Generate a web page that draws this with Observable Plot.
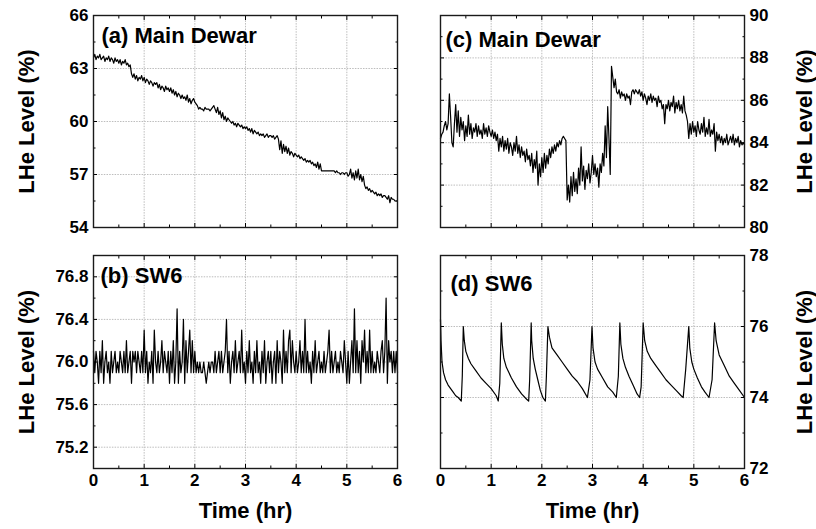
<!DOCTYPE html>
<html><head><meta charset="utf-8">
<script src="https://cdn.jsdelivr.net/npm/d3@7"></script>
<script src="https://cdn.jsdelivr.net/npm/@observablehq/plot@0.6"></script>
<style>
html,body{margin:0;padding:0;background:#fff;}
#chart{position:relative;width:816px;height:529px;overflow:hidden;background:#fff;}
#chart svg{position:absolute;}
</style></head><body><div id="chart"></div>
<script>
// sampling interval (hours) of the logged level series in panels a, b, c
const sampleStepHr = 0.025;

// (a) Main Dewar, LHe level (%)
const mainDewarA = [
63.6,63.8,63.5,63.7,63.6,63.8,63.5,63.6,63.7,63.4,
63.6,63.5,63.7,63.4,63.6,63.5,63.3,63.6,63.4,63.5,
63.3,63.5,63.2,63.4,63.3,63.5,63.2,63.3,63.1,63.2,
62.7,62.5,62.7,62.4,62.6,62.3,62.5,62.4,62.6,62.3,
62.5,62.2,62.4,62.3,62.1,62.3,62.2,62.0,62.2,62.1,
62.2,61.9,62.1,61.8,62.0,61.9,61.7,62.0,61.8,61.9,
61.7,61.9,61.6,61.8,61.5,61.7,61.4,61.6,61.5,61.3,
61.5,61.3,61.4,61.2,61.5,61.1,61.3,61.0,61.2,61.3,
61.1,61.0,60.9,60.7,60.8,60.7,60.7,60.6,60.8,60.7,
60.7,60.7,60.6,60.7,60.8,60.9,60.7,60.5,60.8,60.4,
60.6,60.2,60.5,60.1,60.3,60.0,60.2,60.1,60.0,59.9,
60.0,59.8,59.9,59.7,59.9,59.8,59.7,59.8,59.6,59.7,
59.6,59.7,59.5,59.6,59.4,59.6,59.3,59.5,59.4,59.3,
59.4,59.2,59.3,59.2,59.3,59.1,59.2,59.3,59.1,59.2,
59.2,59.1,59.2,59.0,59.1,59.2,59.0,58.4,58.9,58.2,
58.7,58.3,58.6,58.2,58.5,58.1,58.3,58.2,58.0,58.2,
58.1,58.0,58.1,57.9,58.0,57.9,57.8,57.9,57.7,57.8,
57.7,57.8,57.6,57.7,57.5,57.6,57.4,57.7,57.3,57.6,
57.2,57.2,57.2,57.2,57.2,57.2,57.2,57.2,57.2,57.2,
57.2,57.1,57.2,57.1,57.1,57.0,57.1,57.1,57.0,57.1,
57.1,56.9,57.0,57.3,56.8,57.1,56.7,57.2,56.8,57.3,
56.7,57.0,56.6,56.9,56.4,56.2,56.3,56.1,56.2,56.0,
56.1,56.0,55.9,56.0,55.8,55.9,55.8,55.9,55.7,55.8,
55.8,55.7,55.6,55.8,55.4,55.7,55.6,55.6,55.5,55.5,
55.5];

// (b) SW6, LHe level (%)
const sw6B = [
76.1,75.9,76.1,76.0,75.8,76.1,75.9,76.2,75.8,76.0,
76.1,75.9,76.0,75.8,76.1,75.9,76.0,76.1,75.9,76.0,
75.9,76.1,76.0,75.9,76.1,75.9,76.2,75.9,76.0,76.1,
75.8,76.1,76.0,76.1,75.9,76.1,76.0,75.9,76.1,75.9,
76.3,75.9,76.1,75.8,76.0,75.9,76.1,75.8,76.3,76.0,
75.9,76.1,75.9,76.0,76.2,75.9,76.1,76.0,75.9,76.1,
75.8,76.1,75.9,76.2,75.8,76.0,76.5,75.8,76.1,75.9,
76.0,76.4,75.8,76.2,75.9,76.1,76.3,75.9,76.2,75.9,
76.1,75.9,76.0,75.9,76.0,75.9,75.9,76.0,75.9,75.8,
75.9,76.0,75.9,76.0,76.0,75.9,76.1,75.9,76.0,76.1,
75.9,76.1,75.9,76.0,76.1,76.4,75.9,76.1,75.8,76.0,
76.1,75.9,76.2,75.9,76.0,76.1,75.9,76.3,75.9,76.0,
75.8,76.1,75.9,76.2,75.9,76.0,75.8,76.1,75.9,76.2,
75.9,76.0,75.8,76.1,75.9,76.2,75.8,76.0,76.1,75.9,
76.1,75.8,76.0,76.1,75.8,76.2,75.9,76.1,76.0,75.8,
76.3,75.9,76.1,75.9,76.2,76.3,75.9,76.2,76.0,75.9,
76.1,75.9,76.0,76.2,75.9,76.1,75.9,76.4,75.9,76.1,
75.9,76.0,75.8,76.1,75.9,76.2,75.9,76.0,76.1,75.9,
76.0,75.9,76.1,75.9,76.0,76.1,76.3,75.9,76.1,75.9,
76.0,76.1,75.9,76.0,75.9,76.1,76.0,75.9,76.2,76.0,
75.8,76.1,75.8,76.0,76.2,75.9,76.5,75.9,76.2,75.9,
76.1,75.8,76.2,76.0,76.3,75.9,76.1,75.9,76.3,75.9,
76.1,75.9,76.0,75.9,76.1,76.0,75.9,76.1,76.2,75.9,
76.1,76.6,75.8,76.2,76.0,76.1,75.9,76.1,75.9,76.1,
75.9];

// (c) Main Dewar, LHe level (%)
const mainDewarC = [
84.2,84.4,84.5,84.8,85.0,84.6,84.9,86.3,85.2,84.0,
83.8,84.9,85.8,84.5,85.5,84.3,85.2,84.6,85.0,84.1,
84.8,84.3,85.3,84.4,84.9,84.2,84.7,84.5,84.9,84.3,
84.8,84.4,84.6,84.2,84.9,84.4,84.7,84.3,84.8,84.5,
84.3,84.6,84.2,84.5,84.1,84.4,83.6,84.2,83.8,84.3,
83.6,84.1,83.7,84.2,83.5,84.0,83.8,83.4,84.0,83.6,
84.3,83.5,83.9,83.3,83.8,83.4,83.6,83.1,83.7,83.2,
83.4,82.9,83.5,82.6,83.2,82.8,83.6,82.0,83.0,82.4,
83.3,82.6,83.5,82.8,83.4,83.0,83.7,83.3,83.8,83.5,
83.9,83.6,84.0,83.8,84.1,83.9,84.2,84.3,84.2,84.1,
81.3,82.0,81.2,82.4,81.5,82.6,81.7,82.3,81.6,82.8,
82.0,83.8,82.2,82.9,81.8,82.7,82.3,83.0,82.1,82.6,
83.4,82.5,83.0,82.4,82.8,81.9,83.0,82.6,83.5,82.9,
84.8,83.3,85.7,84.2,82.5,87.6,87.1,86.6,87.0,86.4,
86.3,86.5,86.1,86.4,86.2,86.3,86.0,86.3,86.1,86.2,
85.8,86.4,86.5,86.3,86.5,86.4,86.3,86.5,86.2,86.4,
86.0,86.3,86.1,85.8,86.2,86.0,86.3,85.9,86.2,86.0,
86.1,85.7,86.2,85.9,86.0,85.6,85.8,84.9,85.8,85.6,
86.0,85.5,85.9,85.7,86.2,85.4,85.9,85.6,86.0,85.5,
85.8,85.4,86.2,85.5,85.3,85.0,84.2,84.9,84.4,85.0,
84.5,84.8,84.3,85.0,84.6,84.4,84.9,84.5,85.2,84.3,
84.7,84.4,85.1,84.3,84.6,84.4,84.9,83.6,84.5,84.1,
84.4,84.0,84.3,83.9,84.2,84.0,84.4,83.9,84.1,84.3,
84.0,84.4,83.9,84.2,84.0,84.3,83.8,84.1,83.9,84.0,
83.9];

// (d) SW6: time (hr) and LHe level (%)
const sw6DTime = [
0,0.01,0.03,0.06,0.1,0.15,0.2,0.25,0.3,0.35,0.41,
0.43,0.45,
0.47,0.5,0.55,0.6,0.7,0.8,0.9,1.0,1.1,1.14,
1.17,1.2,
1.22,1.25,1.3,1.4,1.5,1.6,1.7,1.74,
1.76,1.79,
1.8,1.83,1.87,1.92,1.97,2.02,2.07,
2.09,2.12,
2.15,2.2,2.3,2.4,2.5,2.6,2.7,2.8,2.9,
2.95,2.99,
3.01,3.05,3.1,3.2,3.3,3.4,3.47,
3.51,3.54,
3.56,3.6,3.65,3.72,3.8,3.88,3.93,
3.96,4.0,
4.03,4.08,4.15,4.25,4.35,4.45,4.55,4.65,4.75,4.79,
4.84,4.9,
4.92,4.96,5.0,5.07,5.15,5.22,5.3,
5.36,5.41,
5.44,5.5,5.6,5.7,5.8,5.9,6.0];
const sw6DLevel = [
76.2,75.6,75.0,74.7,74.5,74.35,74.25,74.15,74.05,74.0,73.9,
74.6,76.0,
75.6,75.3,75.1,74.95,74.75,74.55,74.4,74.25,74.05,73.9,
74.4,76.1,
75.5,75.1,74.85,74.55,74.3,74.1,73.95,73.9,
74.5,76.1,
75.6,75.1,74.8,74.5,74.2,74.0,73.9,
74.6,76.0,
75.7,75.4,75.2,75.0,74.8,74.6,74.45,74.25,74.0,
74.5,76.0,
75.4,75.0,74.8,74.55,74.3,74.15,74.0,
74.6,76.1,
75.5,75.1,74.85,74.6,74.35,74.1,74.0,
74.3,76.1,
75.6,75.3,75.1,74.9,74.7,74.5,74.35,74.2,74.05,74.0,
74.8,76.0,
75.4,75.0,74.8,74.55,74.3,74.15,74.0,
74.5,76.1,
75.6,75.2,74.9,74.6,74.4,74.2,74.0];

// axis ticks
const xTicks = [0,1,2,3,4,5,6];
const xMinor = [0.5,1.5,2.5,3.5,4.5,5.5];
const xGrid = [1,2,3,4,5];
const aTicks = [54,57,60,63,66], aMinor = [55.5,58.5,61.5,64.5], aGrid = [57,60,63];
const bTicks = [75.2,75.6,76.0,76.4,76.8], bMinor = [75.0,75.4,75.8,76.2,76.6,77.0], bGrid = [75.2,75.6,76.0,76.4,76.8];
const cTicks = [80,82,84,86,88,90], cMinor = [81,83,85,87,89], cGrid = [82,84,86,88];
const dTicks = [72,74,76,78], dMinor = [73,75,77], dGrid = [74,76];

const sampled = (arr) => arr.map((v, i) => ({t: i * sampleStepHr, v}));
const rowsA = sampled(mainDewarA);
const rowsB = sampled(sw6B);
const rowsC = sampled(mainDewarC);
const rowsD = sw6DTime.map((t, i) => ({t, v: sw6DLevel[i]}));

const FONT = "'Liberation Sans', Arial, Helvetica, sans-serif";
const blank = () => "";
const gridStyle = {stroke: "#bdbdbd", strokeOpacity: 1, strokeWidth: 1, strokeDasharray: "1.5,1.2"};

function panel(cfg) {
  const other = cfg.ySide === "left" ? "right" : "left";
  const marks = [
    Plot.gridX(xGrid, gridStyle),
    Plot.gridY(cfg.yGrid, gridStyle),
    Plot.line(cfg.rows, {x: "t", y: "v", stroke: "#000", strokeWidth: 1.2}),
    Plot.axisX(xTicks, {anchor: "bottom", tickSize: -4, tickPadding: 9, tickFormat: cfg.showX ? (d) => String(d) : blank, label: null}),
    Plot.axisX(xMinor, {anchor: "bottom", tickSize: -2.5, tickFormat: blank, label: null}),
    Plot.axisX(xTicks, {anchor: "top", tickSize: -4, tickFormat: blank, label: null}),
    Plot.axisX(xMinor, {anchor: "top", tickSize: -2.5, tickFormat: blank, label: null}),
    Plot.axisY(cfg.yTicks, {anchor: cfg.ySide, tickSize: -4, tickPadding: 9, tickFormat: cfg.yFormat, label: null}),
    Plot.axisY(cfg.yMinor, {anchor: cfg.ySide, tickSize: -2.5, tickFormat: blank, label: null}),
    Plot.axisY(cfg.yTicks, {anchor: other, tickSize: -4, tickFormat: blank, label: null}),
    Plot.axisY(cfg.yMinor, {anchor: other, tickSize: -2.5, tickFormat: blank, label: null}),
    Plot.frame({stroke: "#1a1a1a", strokeWidth: 1.4}),
    Plot.text([cfg.title], {text: (d) => d, frameAnchor: "top-left", dx: cfg.titleDx, dy: cfg.titleDy, textAnchor: "start", lineAnchor: "top", fontSize: 22, fontWeight: "bold", fill: "#000"}),
    Plot.text(["LHe Level (%)"], {text: (d) => d, frameAnchor: cfg.ySide, dx: cfg.yTitleDx, rotate: -90, textAnchor: "middle", lineAnchor: "middle", fontSize: 22, fontWeight: "bold", fill: "#000"})
  ];
  if (cfg.showX) marks.push(Plot.text(["Time (hr)"], {text: (d) => d, frameAnchor: "bottom", dy: 42, textAnchor: "middle", lineAnchor: "middle", fontSize: 22, fontWeight: "bold", fill: "#000"}));
  const svg = Plot.plot({
    width: cfg.width, height: cfg.height,
    marginLeft: cfg.ml, marginRight: cfg.mr, marginTop: cfg.mt, marginBottom: cfg.mb,
    x: {domain: [0, 6]},
    y: {domain: cfg.yDomain},
    style: {fontFamily: FONT, fontSize: "17px", fontWeight: "bold", color: "#000", background: "transparent", overflow: "visible"},
    marks
  });
  svg.style.left = cfg.left + "px";
  svg.style.top = cfg.top + "px";
  document.getElementById("chart").appendChild(svg);
}

panel({rows: rowsA, yDomain: [54, 66], yTicks: aTicks, yMinor: aMinor, yGrid: aGrid, yFormat: (d) => String(d), ySide: "left", showX: false,
  title: "(a) Main Dewar", titleDx: 8, titleDy: 12, yTitleDx: -67,
  left: 0, top: 0, width: 410, height: 240, ml: 93, mr: 13, mt: 15, mb: 13});
panel({rows: rowsB, yDomain: [75, 77], yTicks: bTicks, yMinor: bMinor, yGrid: bGrid, yFormat: d3.format(".1f"), ySide: "left", showX: true,
  title: "(b) SW6", titleDx: 7, titleDy: 12, yTitleDx: -67,
  left: 0, top: 240, width: 410, height: 289, ml: 93, mr: 13, mt: 15, mb: 61});
panel({rows: rowsC, yDomain: [80, 90], yTicks: cTicks, yMinor: cMinor, yGrid: cGrid, yFormat: (d) => String(d), ySide: "right", showX: false,
  title: "(c) Main Dewar", titleDx: 5, titleDy: 15.5, yTitleDx: 60,
  left: 410, top: 0, width: 406, height: 240, ml: 30, mr: 72, mt: 15, mb: 13});
panel({rows: rowsD, yDomain: [72, 78], yTicks: dTicks, yMinor: dMinor, yGrid: dGrid, yFormat: (d) => String(d), ySide: "right", showX: true,
  title: "(d) SW6", titleDx: 10, titleDy: 20, yTitleDx: 60,
  left: 410, top: 240, width: 406, height: 289, ml: 30, mr: 72, mt: 15, mb: 61});
</script>
</body></html>
